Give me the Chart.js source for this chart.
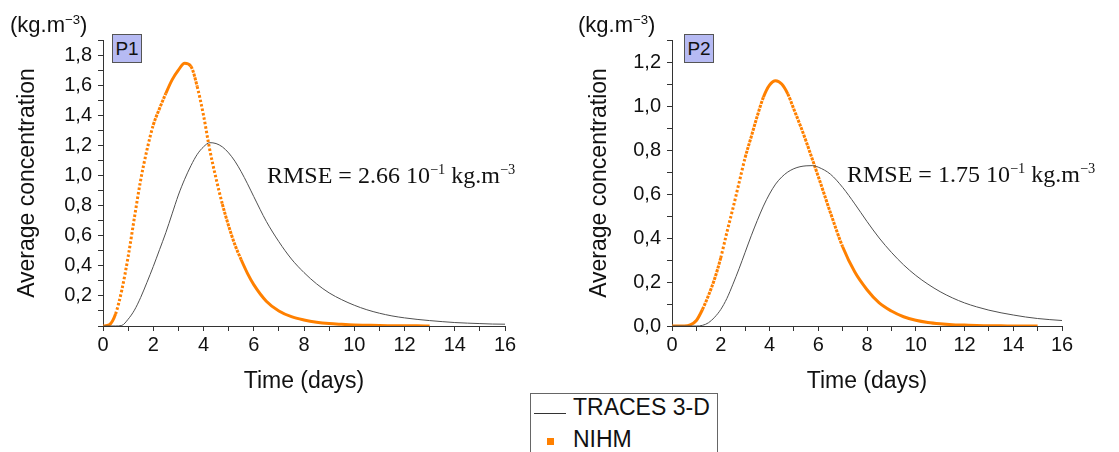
<!DOCTYPE html>
<html>
<head>
<meta charset="utf-8">
<script src="https://cdn.jsdelivr.net/npm/chart.js@4.4.1/dist/chart.umd.min.js"></script>
<style>
  body { margin: 0; background: #fff; }
  #wrap { position: relative; width: 1119px; height: 452px; overflow: hidden; font-family: "Liberation Sans", Arial, sans-serif; color: #111; }
  canvas { position: absolute; top: 0; }
  .unit { position: absolute; top: 14px; font-size: 22px; line-height: 22px; white-space: nowrap; }
  .tag { position: absolute; top: 34px; width: 28px; height: 27px; border: 1px solid #555; background: #b6baf3;
         font-size: 19px; line-height: 27px; text-align: center; }
  .rmse { position: absolute; font-family: "Liberation Serif", "Times New Roman", serif; font-size: 24px; line-height: 24px; white-space: nowrap; }
  sup { font-size: 0.6em; line-height: 0; vertical-align: 0.6em; }
  #legend { position: absolute; left: 530px; top: 393px; width: 186px; height: 80px; border: 1px solid #666; background: #fff; }
  .row { position: absolute; left: 0; font-size: 23px; line-height: 23px; white-space: nowrap; }
  .row span { position: absolute; left: 42px; }
</style>
</head>
<body>
<div id="wrap">
  <canvas id="c1" width="560" height="452" style="left:0px"></canvas>
  <canvas id="c2" width="547" height="452" style="left:572px"></canvas>

  <div class="unit" style="left:10px">(kg.m<sup>−3</sup>)</div>
  <div class="unit" style="left:578px">(kg.m<sup>−3</sup>)</div>
  <div class="tag" style="left:112px">P1</div>
  <div class="tag" style="left:684px">P2</div>
  <div class="rmse" style="left:267px; top:163px">RMSE = 2.66 10<sup>−1</sup> kg.m<sup>−3</sup></div>
  <div class="rmse" style="left:847px; top:162px">RMSE = 1.75 10<sup>−1</sup> kg.m<sup>−3</sup></div>

  <div id="legend"></div>
</div>
<script>
const seriesNames = ["TRACES 3-D", "NIHM"];

const days = [0, 0.25, 0.5, 0.75, 1, 1.25, 1.5, 1.75, 2, 2.25, 2.5, 2.75, 3, 3.25, 3.5, 3.75,
  4, 4.25, 4.5, 4.75, 5, 5.25, 5.5, 5.75, 6, 6.5, 7, 7.5, 8, 8.5, 9, 9.5, 10, 10.5, 11, 11.5,
  12, 12.5, 13, 13.5, 14, 14.5, 15, 15.5, 16];

// P1
const p1Traces = [0, 0, 0, 0.004, 0.045, 0.105, 0.19, 0.29, 0.395, 0.507, 0.62, 0.745, 0.87, 0.975, 1.065, 1.14,
  1.19, 1.218, 1.212, 1.19, 1.15, 1.095, 1.025, 0.945, 0.86, 0.695, 0.56, 0.445, 0.355, 0.28, 0.22, 0.175, 0.138, 0.108, 0.085, 0.067,
  0.054, 0.044, 0.036, 0.029, 0.023, 0.019, 0.016, 0.013, 0.012];
const p1Nihm = [0, 0.008, 0.08, 0.24, 0.46, 0.72, 0.97, 1.17, 1.335, 1.445, 1.545, 1.635, 1.70, 1.745, 1.725, 1.59,
  1.40, 1.17, 0.98, 0.81, 0.665, 0.54, 0.44, 0.35, 0.275, 0.165, 0.10, 0.062, 0.04, 0.025, 0.016, 0.011, 0.007, 0.005, 0.003, 0.002,
  0.001, 0.001, 0, null, null, null, null, null, null];

// P2
const p2Traces = [0, 0, 0, 0, 0, 0.003, 0.015, 0.04, 0.075, 0.125, 0.19, 0.26, 0.335, 0.41, 0.48, 0.545,
  0.6, 0.645, 0.677, 0.7, 0.715, 0.724, 0.728, 0.729, 0.722, 0.69, 0.63, 0.555, 0.475, 0.40, 0.335, 0.278, 0.23, 0.19, 0.156, 0.128,
  0.105, 0.087, 0.072, 0.06, 0.05, 0.041, 0.034, 0.029, 0.025];
const p2Nihm = [0, 0, 0, 0.005, 0.025, 0.075, 0.14, 0.215, 0.31, 0.425, 0.535, 0.65, 0.765, 0.86, 0.955, 1.04,
  1.095, 1.115, 1.10, 1.055, 0.985, 0.915, 0.84, 0.76, 0.68, 0.515, 0.36, 0.245, 0.165, 0.105, 0.068, 0.042, 0.026, 0.016, 0.01, 0.006,
  0.004, 0.002, 0.001, 0.001, 0, 0, 0, null, null];

const xTicks = [0, 2, 4, 6, 8, 10, 12, 14, 16];

const ORANGE = "#ff8000";
const GREY = "#505050";
const AXIS = "#333";
const FONT = "'Liberation Sans', Arial, sans-serif";

function pts(arr) {
  return days.map((d, i) => ({ x: d, y: arr[i] })).filter(p => p.y !== null);
}

// dots of the NIHM series separate where the curve is steep
function dotted(ctx) {
  const dx = Math.abs(ctx.p1.x - ctx.p0.x);
  const dy = Math.abs(ctx.p1.y - ctx.p0.y);
  const s = dy / Math.max(dx, 0.01);
  if (s > 3.5) return [2.5, 2];
  if (s > 2.2) return [3, 1];
  return undefined;
}

function makeChart(id, traces, nihm, yMax, yWidth, rightPad, zeroLabel) {
  return new Chart(document.getElementById(id), {
    type: "line",
    data: {
      datasets: [
        {
          label: seriesNames[0],
          data: pts(traces),
          borderColor: GREY,
          borderWidth: 1,
          pointRadius: 0,
          cubicInterpolationMode: "monotone",
        },
        {
          label: seriesNames[1],
          data: pts(nihm),
          borderColor: ORANGE,
          borderWidth: 3,
          borderCapStyle: "butt",
          pointRadius: 0,
          cubicInterpolationMode: "monotone",
          segment: { borderDash: dotted },
        },
      ],
    },
    options: {
      responsive: false,
      animation: false,
      devicePixelRatio: 1,
      layout: { padding: { left: 0, right: rightPad, top: 40, bottom: 0 } },
      plugins: { legend: { display: false }, tooltip: { enabled: false } },
      scales: {
        x: {
          type: "linear",
          min: 0,
          max: 16,
          afterFit: (s) => { s.height = 126; },
          border: { color: AXIS, width: 1 },
          grid: { drawOnChartArea: false, drawTicks: true, tickLength: 5, color: AXIS },
          ticks: {
            stepSize: 1,
            autoSkip: false,
            maxRotation: 0,
            padding: 2,
            color: "#111",
            font: { family: FONT, size: 20 },
            callback: (v) => (xTicks.includes(v) ? String(v) : ""),
          },
          title: {
            display: true,
            text: "Time (days)",
            color: "#111",
            font: { family: FONT, size: 23 },
            padding: { top: 0, bottom: 57 },
          },
        },
        y: {
          min: 0,
          max: yMax,
          afterFit: (s) => { s.width = yWidth; },
          border: { color: AXIS, width: 1 },
          grid: { drawOnChartArea: false, drawTicks: true, tickLength: 5, color: AXIS },
          ticks: {
            stepSize: 0.1,
            autoSkip: false,
            padding: 6,
            color: "#111",
            font: { family: FONT, size: 20 },
            callback: (v) => {
              const k = Math.round(v * 10);
              if (k % 2 !== 0) return "";
              if (k === 0 && !zeroLabel) return "";
              return (k / 10).toFixed(1).replace(".", ",");
            },
          },
          title: {
            display: true,
            text: "Average concentration",
            color: "#111",
            font: { family: FONT, size: 23 },
            padding: { top: 14, bottom: 0 },
          },
        },
      },
    },
  });
}

const chart1 = makeChart("c1", p1Traces, p1Nihm, 1.9, 103, 55, false);
const chart2 = makeChart("c2", p2Traces, p2Nihm, 1.3, 100, 57, true);

// legend box built from the dataset labels
const legend = document.getElementById("legend");
chart1.data.datasets.forEach((ds, i) => {
  const row = document.createElement("div");
  row.className = "row";
  row.style.top = (i === 0 ? 2 : 34) + "px";
  row.style.width = "180px";
  row.style.height = "23px";
  const mark = document.createElement("div");
  mark.style.position = "absolute";
  if (i === 0) {
    Object.assign(mark.style, { left: "3px", top: "17px", width: "32px", height: "1px", background: "#333" });
  } else {
    Object.assign(mark.style, { left: "16px", top: "10px", width: "7px", height: "7px", background: ORANGE });
  }
  const txt = document.createElement("span");
  txt.textContent = ds.label;
  row.appendChild(mark);
  row.appendChild(txt);
  legend.appendChild(row);
});
</script>
</body>
</html>
